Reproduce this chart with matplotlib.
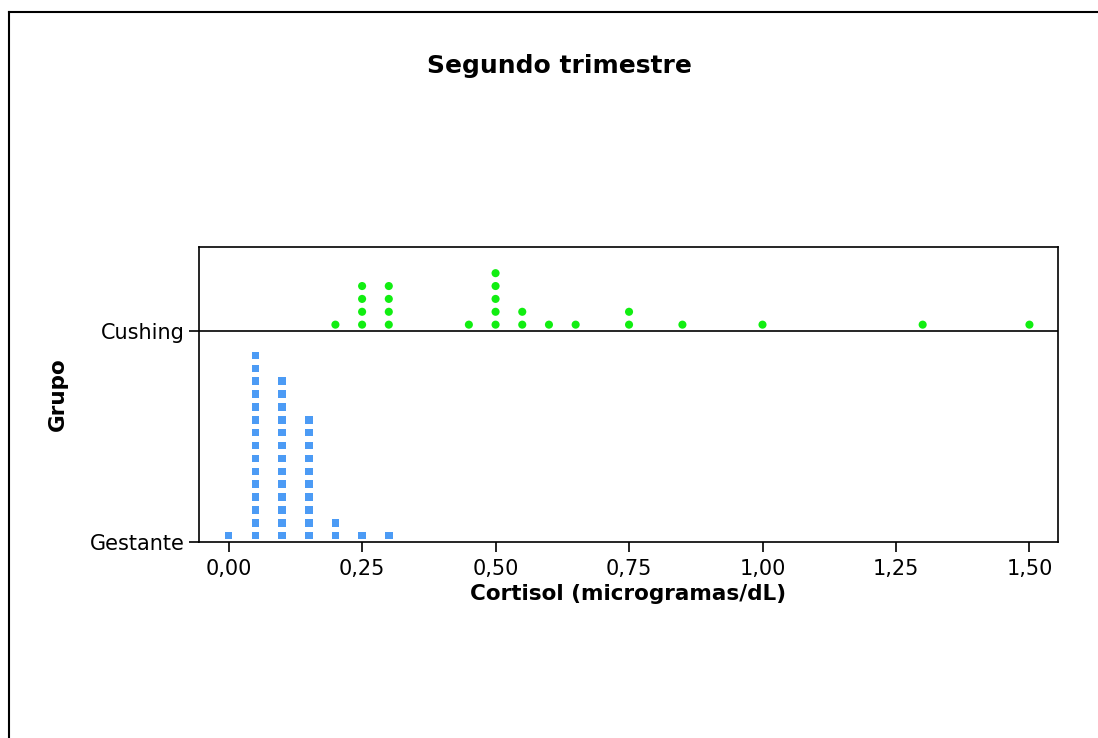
import matplotlib
matplotlib.use("Agg")
import matplotlib.pyplot as plt
from matplotlib.lines import Line2D

# Data: dot positions (cortisol values) and number of stacked dots
gest_x = [0.00, 0.05, 0.10, 0.15, 0.20, 0.25, 0.30]
gest_n = [1, 15, 13, 10, 2, 1, 1]
cush_x = [0.20, 0.25, 0.30, 0.45, 0.50, 0.55, 0.60, 0.65, 0.75, 0.85, 1.00, 1.30, 1.50]
cush_n = [1, 4, 4, 1, 5, 2, 1, 1, 2, 1, 1, 1, 1]

groups = ["Gestante", "Cushing"]
xticks = [0.0, 0.25, 0.5, 0.75, 1.0, 1.25, 1.5]

W, H = 1098, 738
fig = plt.figure(figsize=(W / 100, H / 100), dpi=100)
ax = fig.add_axes([199 / W, 1 - 542 / H, (1058 - 199) / W, (542 - 247) / H])

step = 0.061
off = 0.03

def stack(xs, ns, base):
    px, py = [], []
    for x, n in zip(xs, ns):
        for k in range(n):
            px.append(x)
            py.append(base + off + k * step)
    return px, py

gx, gy = stack(gest_x, gest_n, 0)
cx, cy = stack(cush_x, cush_n, 1)
ax.scatter(gx, gy, marker="s", s=30, color="#4c9bf5", edgecolors="none", zorder=3)
ax.scatter(cx, cy, marker="o", s=34, color="#11ee11", edgecolors="none", zorder=3)

ax.axhline(1, color="black", lw=1.2, zorder=2)

ax.set_xlim(-0.0555, 1.5535)
ax.set_ylim(0, 1.398)
ax.set_xticks(xticks)
ax.set_xticklabels([f"{v:.2f}".replace(".", ",") for v in xticks])
ax.set_yticks([0, 1])
ax.set_yticklabels(groups)
ax.tick_params(direction="out", length=7, width=1.2, labelsize=15, pad=5)
ax.tick_params(axis="y", pad=3)
for s in ax.spines.values():
    s.set_linewidth(1.2)

ax.set_xlabel("Cortisol (microgramas/dL)", fontsize=15.5, fontweight="bold", labelpad=4)
ax.set_ylabel("Grupo", fontsize=15.5, fontweight="bold", labelpad=16)

fig.text(559 / W, 1 - 66 / H, "Segundo trimestre", ha="center", va="center",
         fontsize=18, fontweight="bold")

# outer frame (left and top visible)
fig.add_artist(Line2D([9 / W, 9 / W], [0, 1 - 12 / H], color="black", lw=1.5,
                      transform=fig.transFigure))
fig.add_artist(Line2D([9 / W, 1], [1 - 12 / H, 1 - 12 / H], color="black", lw=1.5,
                      transform=fig.transFigure))

fig.savefig("out.png", dpi=100)
